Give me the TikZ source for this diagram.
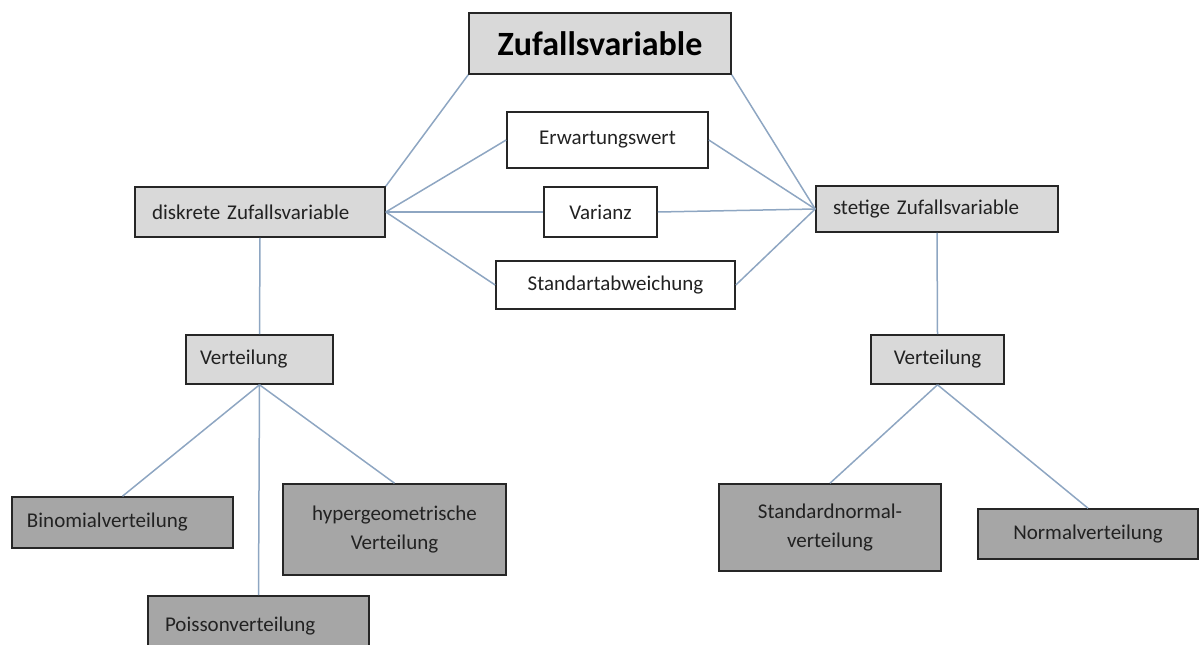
\documentclass[tikz,border=0pt]{standalone}
\usepackage{fontspec}
\setmainfont{Carlito}
\definecolor{lightfill}{HTML}{D9D9D9}
\definecolor{darkfill}{HTML}{A6A6A6}
\definecolor{linecol}{HTML}{8EA6C2}
\definecolor{txt}{HTML}{222222}
\begin{document}
\begin{tikzpicture}[x=1pt,y=-1pt,
  box/.style={draw=black!85, line width=1.6pt, inner sep=0pt, text=txt,
    font=\fontsize{21}{29}\selectfont},
  lightbox/.style={box, fill=lightfill},
  darkbox/.style={box, fill=darkfill},
  whitebox/.style={box, fill=white},
  conn/.style={draw=linecol, line width=1.5pt}]
\clip (0,0) rectangle (1202,645);
\useasboundingbox (0,0) rectangle (1202,645);

\node[lightbox, minimum width=262pt, minimum height=61pt,
  font=\fontsize{34}{38}\selectfont\bfseries, text=black] (top) at (600,43.5) {Zufallsvariable};

\node[lightbox, minimum width=250pt, minimum height=50pt, inner xsep=17pt,
  text width=216pt, align=left] (dis) at (260,212) {diskrete Zufallsvariable};
\node[lightbox, minimum width=242pt, minimum height=46pt, inner xsep=17pt,
  text width=208pt, align=left] (ste) at (937,209) {stetige Zufallsvariable};

\node[whitebox, minimum width=201pt, minimum height=56pt] (erw) at (607.5,140) {Erwartungswert};
\node[whitebox, minimum width=113pt, minimum height=50pt] (var) at (600.5,212) {Varianz};
\node[whitebox, minimum width=239pt, minimum height=48pt] (std) at (615.5,285) {Standartabweichung};

\node[lightbox, minimum width=147pt, minimum height=49pt, inner xsep=14pt,
  text width=119pt, align=left] (verL) at (259.5,359.5) {Verteilung};
\node[lightbox, minimum width=133pt, minimum height=49pt] (verR) at (937.5,359.5) {Verteilung};

\node[darkbox, minimum width=221pt, minimum height=51pt, inner xsep=15pt,
  text width=191pt, align=left] (binom) at (122.5,522.5) {Binomialverteilung};
\node[darkbox, minimum width=221pt, minimum height=60pt, inner xsep=17pt,
  text width=187pt, align=left] (poi) at (258.5,626) {Poissonverteilung};
\node[darkbox, minimum width=223pt, minimum height=91pt, align=center] (hyp) at (394.5,529.5) {hypergeometrische\\Verteilung};

\node[darkbox, minimum width=222pt, minimum height=87pt, align=center] (stdn) at (830,527.5) {Standardnormal-\\verteilung};
\node[darkbox, minimum width=220pt, minimum height=50pt] (norm) at (1088,534) {Normalverteilung};

\draw[conn] (top.south west) -- (dis.north east);
\draw[conn] (top.south east) -- (ste.west);
\draw[conn] (dis.east) -- (erw.west);
\draw[conn] (dis.east) -- (var.west);
\draw[conn] (dis.east) -- (std.west);
\draw[conn] (erw.east) -- (ste.west);
\draw[conn] (var.east) -- (ste.west);
\draw[conn] (std.east) -- (ste.west);
\draw[conn] (dis.south) -- (verL.north);
\draw[conn] (verL.south) -- (binom.north);
\draw[conn] (verL.south) -- (poi.north);
\draw[conn] (verL.south) -- (hyp.north);
\draw[conn] (ste.south) -- (verR.north);
\draw[conn] (verR.south) -- (stdn.north);
\draw[conn] (verR.south) -- (norm.north);
\end{tikzpicture}
\end{document}
